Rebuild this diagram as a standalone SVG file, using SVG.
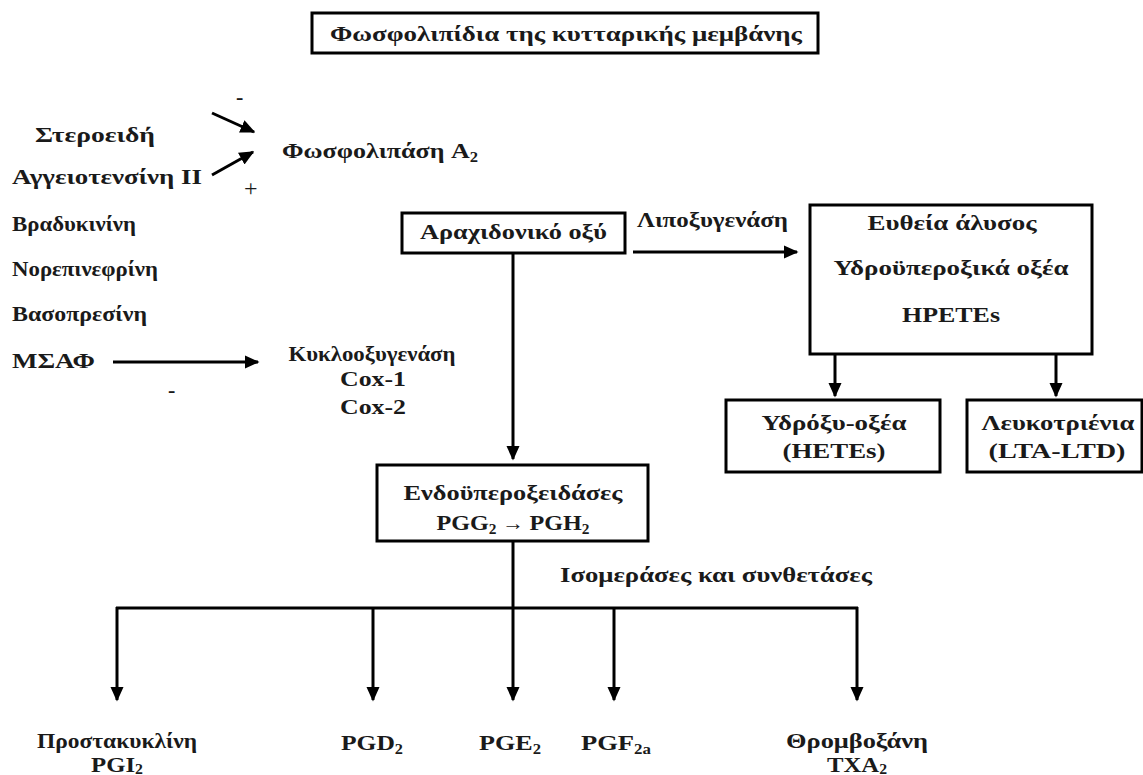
<svg xmlns="http://www.w3.org/2000/svg" width="1143" height="775" viewBox="0 0 1143 775">
<defs>
<marker id="ah" viewBox="0 0 10 10" refX="9" refY="5" markerWidth="5" markerHeight="5" markerUnits="strokeWidth" orient="auto">
<path d="M0,0.5 L10,5 L0,9.5 z" fill="#000"/>
</marker>
<style>
text{font-family:"Liberation Serif","Times New Roman",serif;font-weight:bold;font-size:22px;fill:#1a1a1a}
.c{text-anchor:middle}
.box{fill:#fff;stroke:#000;stroke-width:3}
.ln{stroke:#000;stroke-width:3;fill:none}
.ar{stroke:#000;stroke-width:3;fill:none;marker-end:url(#ah)}
.s{font-size:14px}
.sg{font-size:20px;font-weight:normal}
.pm{font-size:24px;font-weight:normal}
</style>
</defs>
<rect width="1143" height="775" fill="#fff"/>
<g id="title">
<rect class="box" x="312" y="13" width="506" height="40"/>
<text class="c" x="566" y="41" textLength="472" lengthAdjust="spacingAndGlyphs">Φωσφολιπίδια της κυτταρικής μεμβάνης</text>
</g>
<g id="left-labels">
<text x="35" y="142" textLength="120" lengthAdjust="spacingAndGlyphs">Στεροειδή</text>
<text x="12" y="184" textLength="190" lengthAdjust="spacingAndGlyphs">Αγγειοτενσίνη II</text>
<text x="12" y="231" textLength="124" lengthAdjust="spacingAndGlyphs">Βραδυκινίνη</text>
<text x="12" y="276" textLength="146" lengthAdjust="spacingAndGlyphs">Νορεπινεφρίνη</text>
<text x="12" y="321" textLength="135" lengthAdjust="spacingAndGlyphs">Βασοπρεσίνη</text>
<text x="12" y="368" textLength="83" lengthAdjust="spacingAndGlyphs">ΜΣΑΦ</text>
</g>
<g id="pla2">
<text x="282" y="158" textLength="196" lengthAdjust="spacingAndGlyphs">Φωσφολιπάση A<tspan class="s" dy="4">2</tspan></text>
</g>
<g id="arachidonic">
<rect class="box" x="402" y="213" width="223" height="40"/>
<text x="420" y="239" textLength="187" lengthAdjust="spacingAndGlyphs">Αραχιδονικό οξύ</text>
</g>
<g id="lox-box">
<rect class="box" x="810" y="205" width="282" height="149"/>
<text class="c" x="952" y="230" textLength="169" lengthAdjust="spacingAndGlyphs">Ευθεία άλυσος</text>
<text class="c" x="951" y="275" textLength="235" lengthAdjust="spacingAndGlyphs">Υδροϋπεροξικά οξέα</text>
<text class="c" x="951" y="322" textLength="98" lengthAdjust="spacingAndGlyphs">HPETEs</text>
</g>
<g id="hetes">
<rect class="box" x="726" y="400" width="214" height="72"/>
<text class="c" x="834" y="430" textLength="145" lengthAdjust="spacingAndGlyphs">Υδρόξυ-οξέα</text>
<text class="c" x="834" y="458" textLength="103" lengthAdjust="spacingAndGlyphs">(HETEs)</text>
</g>
<g id="ltd">
<rect class="box" x="967" y="400" width="175" height="72"/>
<text class="c" x="1058" y="430" textLength="153" lengthAdjust="spacingAndGlyphs">Λευκοτριένια</text>
<text class="c" x="1057" y="458" textLength="137" lengthAdjust="spacingAndGlyphs">(LTA-LTD)</text>
</g>
<g id="cox">
<text class="c" x="372" y="361" textLength="167" lengthAdjust="spacingAndGlyphs">Κυκλοοξυγενάση</text>
<text class="c" x="373" y="386" textLength="66" lengthAdjust="spacingAndGlyphs">Cox-1</text>
<text class="c" x="373" y="414" textLength="66" lengthAdjust="spacingAndGlyphs">Cox-2</text>
</g>
<g id="endo">
<rect class="box" x="377" y="465" width="271" height="76"/>
<text class="c" x="513" y="500" textLength="219" lengthAdjust="spacingAndGlyphs">Ενδοϋπεροξειδάσες</text>
<text class="c" x="513" y="530" textLength="153" lengthAdjust="spacingAndGlyphs">PGG<tspan class="s" dy="4">2</tspan><tspan class="sg" dy="-4"> → </tspan>PGH<tspan class="s" dy="4">2</tspan></text>
</g>
<g id="products">
<text class="c" x="117" y="748" textLength="160" lengthAdjust="spacingAndGlyphs">Προστακυκλίνη</text>
<text class="c" x="117" y="772" textLength="52" lengthAdjust="spacingAndGlyphs">PGI<tspan class="s" dy="2">2</tspan></text>
<text class="c" x="372" y="750" textLength="62" lengthAdjust="spacingAndGlyphs">PGD<tspan class="s" dy="4">2</tspan></text>
<text class="c" x="510" y="750" textLength="62" lengthAdjust="spacingAndGlyphs">PGE<tspan class="s" dy="4">2</tspan></text>
<text class="c" x="616" y="750" textLength="70" lengthAdjust="spacingAndGlyphs">PGF<tspan class="s" dy="4">2a</tspan></text>
<text class="c" x="857" y="748" textLength="142" lengthAdjust="spacingAndGlyphs">Θρομβοξάνη</text>
<text class="c" x="857" y="772" textLength="60" lengthAdjust="spacingAndGlyphs">TXA<tspan class="s" dy="2">2</tspan></text>
</g>
<g id="connectors">
<line class="ar" x1="212" y1="113" x2="254" y2="132"/>
<line class="ar" x1="212" y1="175" x2="253" y2="152"/>
<line class="ar" x1="113" y1="362" x2="258" y2="362"/>
<line class="ar" x1="633" y1="252" x2="797" y2="252"/>
<line class="ar" x1="513" y1="253" x2="513" y2="459"/>
<line class="ar" x1="835" y1="354" x2="835" y2="396"/>
<line class="ar" x1="1056" y1="354" x2="1056" y2="396"/>
<line class="ar" x1="513" y1="541" x2="513" y2="700"/>
<line class="ln" x1="116" y1="608" x2="858" y2="608"/>
<line class="ar" x1="117" y1="607" x2="117" y2="700"/>
<line class="ar" x1="373" y1="607" x2="373" y2="700"/>
<line class="ar" x1="614" y1="607" x2="614" y2="700"/>
<line class="ar" x1="857" y1="607" x2="857" y2="700"/>
<text x="236" y="104">-</text>
<text x="244" y="196" class="pm">+</text>
<text x="168" y="397">-</text>
<text x="637" y="227" textLength="151" lengthAdjust="spacingAndGlyphs">Λιποξυγενάση</text>
<text x="560" y="582" textLength="312" lengthAdjust="spacingAndGlyphs">Ισομεράσες και συνθετάσες</text>
</g>
</svg>
